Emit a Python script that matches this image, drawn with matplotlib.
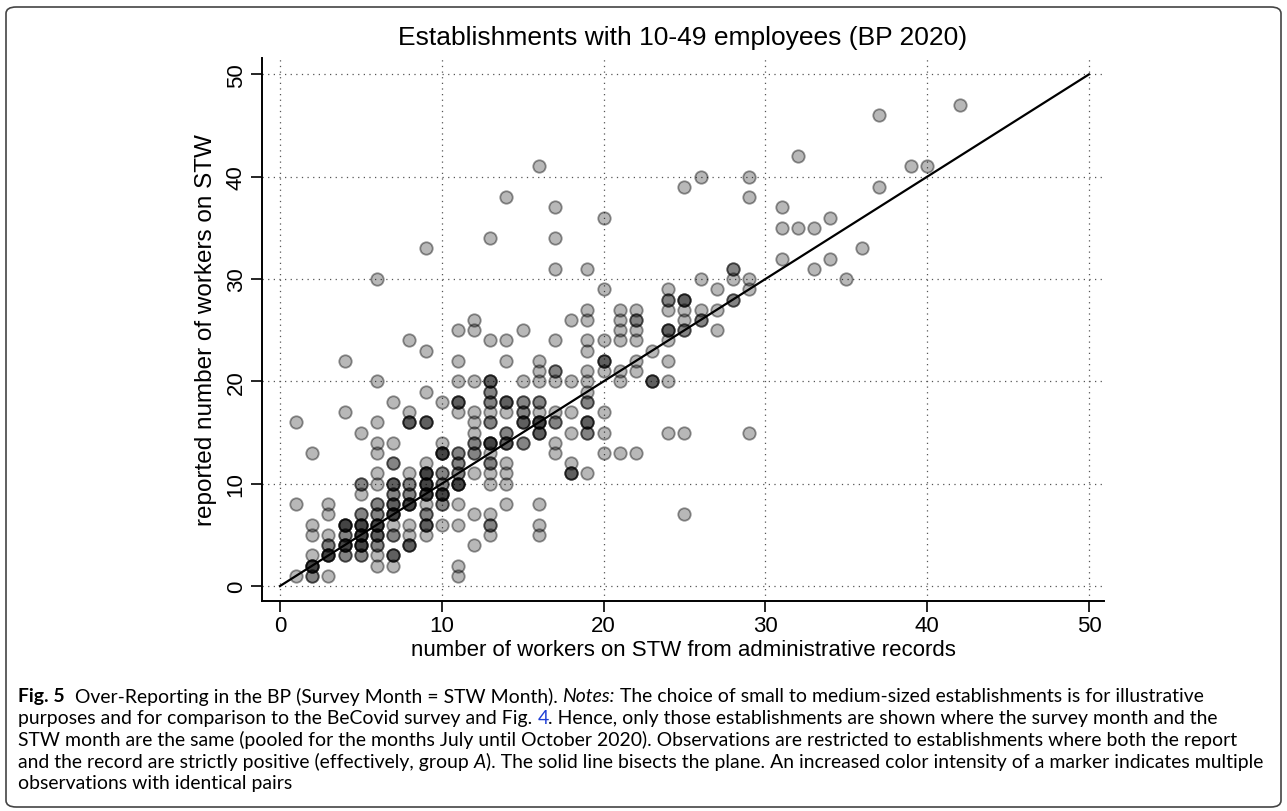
import numpy as np
import matplotlib
matplotlib.use("Agg")
import matplotlib.pyplot as plt
from matplotlib.patches import FancyBboxPatch

# ---- data: (admin records x, reported y, number of identical observations)
x_admin = [1,1,1,
           2,2,2,2,2,2,
           3,3,3,3,3,3,
           4,4,4,4,4,4,
           5,5,5,5,5,5,5,5,
           6,6,6,6,6,6,6,6,6,6,6,6,6,6,
           7,7,7,7,7,7,7,7,7,7,7,
           8,8,8,8,8,8,8,8,8,8,
           9,9,9,9,9,9,9,9,9,9,9,9,
           10,10,10,10,10,10,10,10,
           11,11,11,11,11,11,11,11,11,11,11,11,11,
           12,12,12,12,12,12,12,12,12,12,12,
           13,13,13,13,13,13,13,13,13,13,13,13,13,13,13,
           14,14,14,14,14,14,14,14,14,14,14,
           15,15,15,15,15,15,
           16,16,16,16,16,16,16,16,16,16,16,
           17,17,17,17,17,17,17,17,17,17,
           18,18,18,18,18,18,
           19,19,19,19,19,19,19,19,19,19,19,19,
           20,20,20,20,20,20,20,20,
           21,21,21,21,21,21,21,
           22,22,22,22,22,22,22,
           23,23,
           24,24,24,24,24,24,24,24,
           25,25,25,25,25,25,25,
           26,26,26,26,
           27,27,27,
           28,28,28,
           29,29,29,29,29,
           31,31,31,
           32,32,
           33,33,
           34,34,
           35, 36, 37, 37, 39, 40, 42]
y_reported = [1,8,16,
              1,2,3,5,6,13,
              1,3,4,5,7,8,
              3,4,5,6,17,22,
              3,4,5,6,7,9,10,15,
              2,3,4,5,6,7,8,10,11,13,14,16,20,30,
              2,3,5,6,7,8,9,10,12,14,18,
              4,5,6,8,9,10,11,16,17,24,
              5,6,7,8,9,10,11,12,16,19,23,33,
              6,8,9,10,11,13,14,18,
              1,2,6,8,10,11,12,13,17,18,20,22,25,
              4,7,11,13,14,15,16,17,20,25,26,
              5,6,7,10,11,12,13,14,16,17,18,19,20,24,34,
              8,10,11,12,14,15,17,18,22,24,38,
              14,16,17,18,20,25,
              5,6,8,15,16,17,18,20,21,22,41,
              13,14,16,17,20,21,24,31,34,37,
              11,12,15,17,20,26,
              11,15,16,18,19,20,21,23,24,26,27,31,
              13,15,17,21,22,24,29,36,
              13,20,21,24,25,26,27,
              13,21,22,24,25,26,27,
              20,23,
              15,20,22,24,25,27,28,29,
              7,15,25,26,27,28,39,
              26,27,30,40,
              25,27,29,
              28,30,31,
              15,29,30,38,40,
              32,35,37,
              35,42,
              31,35,
              32,36,
              30, 33, 39, 46, 41, 41, 47]
n_obs = [1,1,1,
         2,4,1,1,1,1,
         1,4,2,1,1,1,
         2,4,2,4,1,1,
         2,4,4,4,2,1,2,1,
         1,1,2,3,4,2,2,1,1,1,1,1,1,1,
         1,3,2,1,4,3,2,3,2,1,1,
         3,1,1,4,2,2,1,3,1,1,
         1,3,2,1,4,4,4,1,3,1,1,1,
         1,2,4,2,2,4,1,1,
         1,1,1,1,4,2,2,2,1,3,1,1,1,
         1,1,1,2,2,1,1,1,1,1,1,
         1,2,1,1,1,2,1,4,2,1,2,2,3,1,1,
         1,1,1,1,3,2,1,3,1,1,1,
         2,3,2,2,1,1,
         1,1,1,3,4,1,2,1,1,1,1,
         1,1,2,1,1,2,1,1,1,1,
         3,1,1,1,1,1,
         1,2,3,2,1,1,1,1,1,1,1,1,
         1,1,1,1,3,1,1,1,
         1,1,1,1,1,1,1,
         1,1,1,1,1,2,1,
         3,1,
         1,1,1,1,3,1,2,1,
         1,1,2,1,1,3,1,
         2,1,1,1,
         1,1,1,
         2,1,2,
         1,1,1,1,1,
         1,1,1,
         1,1,
         1,1,
         1,1,
         1, 1, 1, 1, 1, 1, 1]

axis_ticks = [0, 10, 20, 30, 40, 50]
title = "Establishments with 10-49 employees (BP 2020)"
xlabel = "number of workers on STW from administrative records"
ylabel = "reported number of workers on STW"

plt.rcParams['font.family'] = ['Liberation Sans', 'DejaVu Sans']

W, H = 1287, 812
fig = plt.figure(figsize=(W/100, H/100), dpi=100)

# rounded outer frame
frame = FancyBboxPatch((6/W, 4/H), (W-12)/W, (H-12)/H,
                       boxstyle="round,pad=0,rounding_size=0.008",
                       transform=fig.transFigure, fill=False,
                       edgecolor="#444444", linewidth=1.2)
fig.patches.append(frame)

ax = fig.add_axes([262/W, 1-602/H, (1104-262)/W, (602-59)/H])
ax.set_xlim(-1.11, 50.93)
ax.set_ylim(-1.46, 51.6)

for sp in ['top', 'right']:
    ax.spines[sp].set_visible(False)
for sp in ['left', 'bottom']:
    ax.spines[sp].set_linewidth(1.4)
    ax.spines[sp].set_color('black')

ax.set_xticks(axis_ticks)
ax.set_yticks(axis_ticks)
ax.set_xticklabels([str(t) for t in axis_ticks], fontsize=16)
ax.set_yticklabels([str(t) for t in axis_ticks], fontsize=16, rotation=90, va='center')
ax.tick_params(axis='both', length=8, width=1.2, direction='out')
ax.tick_params(axis='x', pad=2)
ax.tick_params(axis='y', pad=3)

ax.grid(True, linestyle=(0, (1, 3.5)), color='#555555', linewidth=0.9)
ax.set_axisbelow(True)

xs = np.repeat(np.array(x_admin, dtype=float), n_obs)
ys = np.repeat(np.array(y_reported, dtype=float), n_obs)
ax.scatter(xs, ys, s=80, facecolor=(0, 0, 0, 0.28), edgecolor=(0, 0, 0, 0.42),
           linewidth=1.3, zorder=3)

ax.plot([0, 50], [0, 50], color='black', linewidth=1.6, zorder=4)

ax.set_title(title, fontsize=19, pad=10)
ax.set_xlabel(xlabel, fontsize=16, labelpad=2)
ax.set_ylabel(ylabel, fontsize=17.5, labelpad=6)

# caption with mixed styles
cap_family = ['Lato', 'DejaVu Sans']
lines = [
    [("Fig. 5", dict(weight='bold')), ("  Over-Reporting in the BP (Survey Month = STW Month). ", {}),
     ("Notes:", dict(style='italic')), (" The choice of small to medium-sized establishments is for illustrative", {})],
    [("purposes and for comparison to the BeCovid survey and Fig. ", {}), ("4", dict(color='#1f3fd6')),
     (". Hence, only those establishments are shown where the survey month and the", {})],
    [("STW month are the same (pooled for the months July until October 2020). Observations are restricted to establishments where both the report", {})],
    [("and the record are strictly positive (effectively, group ", {}), ("A", dict(style='italic')),
     ("). The solid line bisects the plane. An increased color intensity of a marker indicates multiple", {})],
    [("observations with identical pairs", {})],
]
fig.canvas.draw()
renderer = fig.canvas.get_renderer()

# determine font size so the longest wrapped line spans like the reference
base_fs = 12.0
probe_w = 0.0
for txt, kw in lines[3]:
    t = fig.text(0.1, 0.5, txt, fontsize=base_fs, family=cap_family, **kw)
    probe_w += t.get_window_extent(renderer=renderer).width
    t.remove()
cap_fs = base_fs * (1262 - 18) / probe_w

y0 = 697
for i, segs in enumerate(lines):
    xpix = 18
    ypix = y0 + i * 21.7
    for txt, kw in segs:
        t = fig.text(xpix / W, 1 - ypix / H, txt, fontsize=cap_fs, family=cap_family,
                     va='center', ha='left', **kw)
        bb = t.get_window_extent(renderer=renderer)
        xpix += bb.width

fig.savefig("out.png", dpi=100)
